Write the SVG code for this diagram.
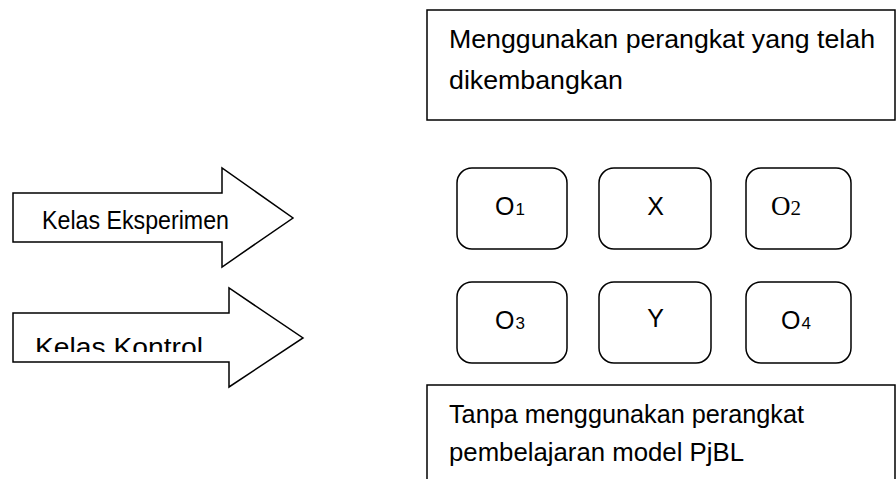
<svg xmlns="http://www.w3.org/2000/svg" width="896" height="479" viewBox="0 0 896 479">
<style>
.sh{fill:#fff;stroke:#000;stroke-width:1.5}
.t{font-family:"Liberation Sans",Arial,sans-serif;fill:#000;font-size:25px}
.s{font-family:"Liberation Serif","Times New Roman",serif;fill:#000}
</style>
<defs>
<clipPath id="ck"><rect x="14" y="314" width="214" height="38"/></clipPath>
</defs>
<rect width="896" height="479" fill="#fff"/>
<g id="top-box">
<rect class="sh" x="427" y="10" width="468" height="110"/>
<text class="t" x="449" y="48" textLength="426" lengthAdjust="spacingAndGlyphs">Menggunakan perangkat yang telah</text>
<text class="t" x="449" y="89" textLength="174" lengthAdjust="spacingAndGlyphs">dikembangkan</text>
</g>
<g id="arrow-eksperimen">
<path class="sh" d="M13,193 H222 V168 L293,218 L222,267 V242 H13 Z"/>
<text class="t" x="42" y="229" font-size="23" textLength="187" lengthAdjust="spacingAndGlyphs">Kelas Eksperimen</text>
</g>
<g id="arrow-kontrol">
<path class="sh" d="M13,313 H229 V288 L303,338 L229,387 V362 H13 Z"/>
<text class="t" x="35" y="356" font-size="26" textLength="168" lengthAdjust="spacingAndGlyphs" clip-path="url(#ck)">Kelas Kontrol</text>
</g>
<g id="O1">
<rect class="sh" x="457" y="168" width="110" height="81" rx="15"/>
<text class="t" x="495" y="215" font-size="26">O<tspan font-size="17" dx="1">1</tspan></text>
</g>
<g id="X">
<rect class="sh" x="599" y="168" width="112" height="81" rx="15"/>
<text class="t" x="655.5" y="215" text-anchor="middle">X</text>
</g>
<g id="O2">
<rect class="sh" x="746" y="168" width="105" height="81" rx="15"/>
<text class="s" x="771" y="215" font-size="27">O<tspan font-size="21">2</tspan></text>
</g>
<g id="O3">
<rect class="sh" x="457" y="282" width="110" height="81" rx="15"/>
<text class="t" x="495" y="329" font-size="26">O<tspan font-size="17" dx="1">3</tspan></text>
</g>
<g id="Y">
<rect class="sh" x="599" y="282" width="112" height="81" rx="15"/>
<text class="t" x="655.5" y="327" text-anchor="middle">Y</text>
</g>
<g id="O4">
<rect class="sh" x="746" y="282" width="105" height="81" rx="15"/>
<text class="t" x="781" y="329" font-size="26">O<tspan font-size="17" dx="1">4</tspan></text>
</g>
<g id="bottom-box">
<path class="sh" d="M427,480 V385 H895 V480"/>
<text class="t" x="449" y="423" textLength="355" lengthAdjust="spacingAndGlyphs">Tanpa menggunakan perangkat</text>
<text class="t" x="449" y="461" textLength="295" lengthAdjust="spacingAndGlyphs">pembelajaran model PjBL</text>
</g>
</svg>
